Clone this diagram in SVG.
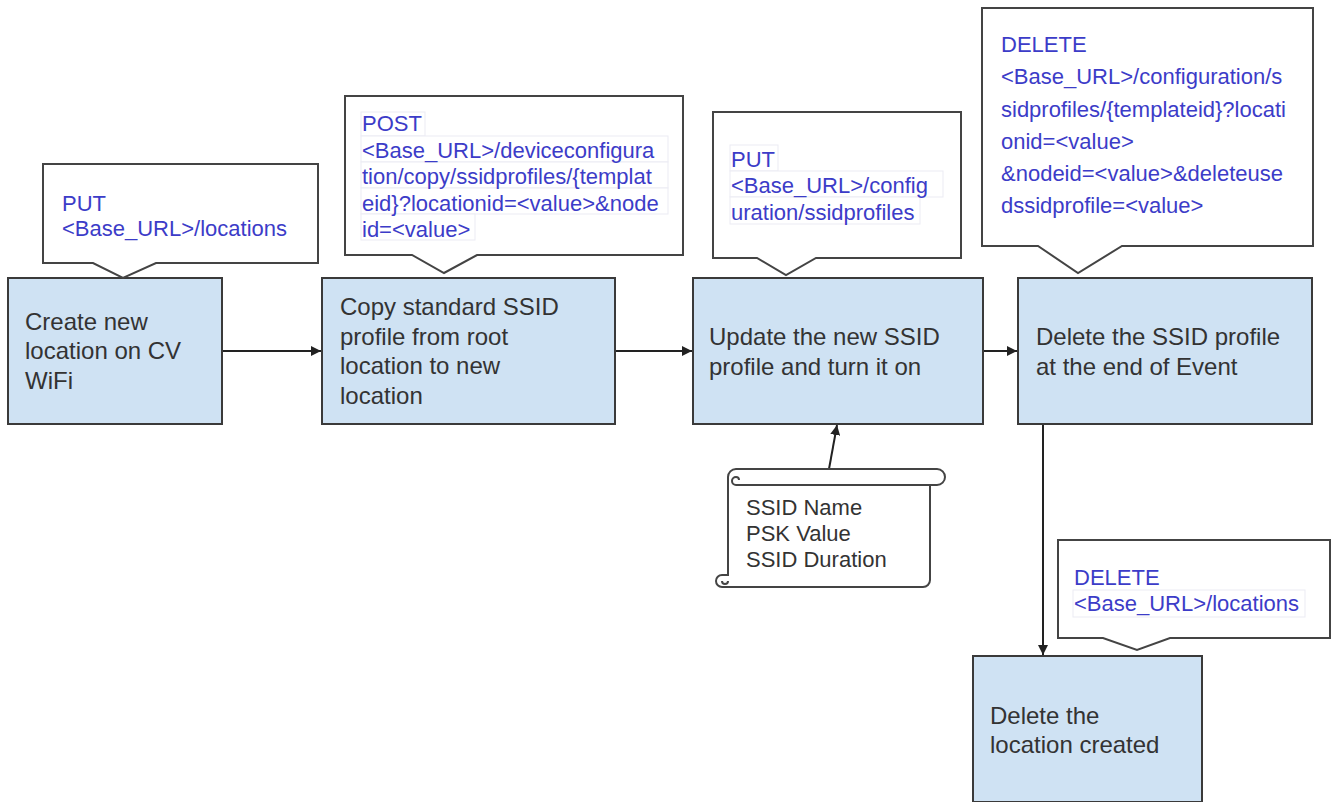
<svg xmlns="http://www.w3.org/2000/svg" width="1331" height="802" viewBox="0 0 1331 802">
<style>
.node{fill:#cfe2f3;stroke:#3a3a3a;stroke-width:2}
.call{fill:#fff;stroke:#444;stroke-width:2;stroke-linejoin:miter}
.nt{font-family:"Liberation Sans",Arial,sans-serif;font-size:24px;fill:#333}
.bt{font-family:"Liberation Sans",Arial,sans-serif;font-size:22px;fill:#3c3cc8}
.st{font-family:"Liberation Sans",Arial,sans-serif;font-size:22px;fill:#333}
.hl{fill:#fff;stroke:#ebebf3;stroke-width:1}
.conn{stroke:#222;stroke-width:2;fill:none}
</style>
<defs>
<marker id="ah" viewBox="0 0 10 10" refX="10" refY="5" markerWidth="5" markerHeight="5" orient="auto" markerUnits="strokeWidth">
<path d="M0 0 L10 5 L0 10 Z" fill="#222"/>
</marker>
</defs>
<rect width="1331" height="802" fill="#fff"/>

<g id="connectors">
<line class="conn" x1="222" y1="351" x2="321" y2="351" marker-end="url(#ah)"/>
<line class="conn" x1="615" y1="351" x2="692" y2="351" marker-end="url(#ah)"/>
<line class="conn" x1="983" y1="351" x2="1017" y2="351" marker-end="url(#ah)"/>
<line class="conn" x1="1043" y1="424" x2="1043" y2="655" marker-end="url(#ah)"/>
<line class="conn" x1="829" y1="469" x2="837" y2="425" marker-end="url(#ah)"/>
</g>

<g id="node1">
<rect class="node" x="8" y="278" width="214" height="146"/>
<text class="nt" x="25" y="330">Create new</text>
<text class="nt" x="25" y="359">location on CV</text>
<text class="nt" x="25" y="389">WiFi</text>
</g>
<g id="callout1">
<path class="call" d="M43 164 H318 V263 H156 L123 278 L93 263 H43 Z"/>
<text class="bt" x="62" y="211">PUT</text>
<text class="bt" x="62" y="236">&lt;Base_URL&gt;/locations</text>
</g>

<g id="node2">
<rect class="node" x="322" y="278" width="293" height="146"/>
<text class="nt" x="340" y="315">Copy standard SSID</text>
<text class="nt" x="340" y="345">profile from root</text>
<text class="nt" x="340" y="374">location to new</text>
<text class="nt" x="340" y="404">location</text>
</g>
<g id="callout2">
<path class="call" d="M345 96 H683 V255 H477 L444 273 L412 255 H345 Z"/>
<rect class="hl" x="361" y="112" width="64" height="24"/>
<rect class="hl" x="361" y="136" width="307" height="26"/>
<rect class="hl" x="361" y="162" width="307" height="26"/>
<rect class="hl" x="361" y="188" width="307" height="26"/>
<rect class="hl" x="361" y="214" width="114" height="26"/>
<text class="bt" x="362" y="131">POST</text>
<text class="bt" x="362" y="158">&lt;Base_URL&gt;/deviceconfigura</text>
<text class="bt" x="362" y="184">tion/copy/ssidprofiles/{templat</text>
<text class="bt" x="362" y="211">eid}?locationid=&lt;value&gt;&amp;node</text>
<text class="bt" x="362" y="237">id=&lt;value&gt;</text>
</g>

<g id="node3">
<rect class="node" x="693" y="278" width="290" height="146"/>
<text class="nt" x="709" y="345">Update the new SSID</text>
<text class="nt" x="709" y="375">profile and turn it on</text>
</g>
<g id="callout3">
<path class="call" d="M713 112 H961 V258 H816 L786 275 L757 258 H713 Z"/>
<rect class="hl" x="730" y="145" width="48" height="26"/>
<rect class="hl" x="730" y="171" width="213" height="26"/>
<rect class="hl" x="730" y="197" width="190" height="27"/>
<text class="bt" x="731" y="167">PUT</text>
<text class="bt" x="731" y="193">&lt;Base_URL&gt;/config</text>
<text class="bt" x="731" y="220">uration/ssidprofiles</text>
</g>

<g id="node4">
<rect class="node" x="1018" y="278" width="294" height="146"/>
<text class="nt" x="1036" y="345">Delete the SSID profile</text>
<text class="nt" x="1036" y="375">at the end of Event</text>
</g>
<g id="callout4">
<path class="call" d="M982 8 H1313 V246 H1122 L1078 273 L1038 246 H982 Z"/>
<text class="bt" x="1001" y="52">DELETE</text>
<text class="bt" x="1001" y="84">&lt;Base_URL&gt;/configuration/s</text>
<text class="bt" x="1001" y="117">sidprofiles/{templateid}?locati</text>
<text class="bt" x="1001" y="149">onid=&lt;value&gt;</text>
<text class="bt" x="1001" y="181">&amp;nodeid=&lt;value&gt;&amp;deleteuse</text>
<text class="bt" x="1001" y="213">dssidprofile=&lt;value&gt;</text>
</g>

<g id="node5">
<rect class="node" x="973" y="656" width="229" height="146"/>
<text class="nt" x="990" y="724">Delete the</text>
<text class="nt" x="990" y="753">location created</text>
</g>
<g id="callout5">
<path class="call" d="M1058 540 H1330 V638 H1170 L1137 650 L1103 638 H1058 Z"/>
<rect class="hl" x="1073" y="590" width="232" height="27"/>
<text class="bt" x="1074" y="585">DELETE</text>
<text class="bt" x="1074" y="611">&lt;Base_URL&gt;/locations</text>
</g>

<g id="scroll">
<path class="call" d="M736 469 H937 A8 8 0 0 1 937 485 H930 V580 A7 7 0 0 1 923 587 H722 A6 6 0 0 1 722 575 H728 V477 A8 8 0 0 1 736 469 Z"/>
<path d="M736 485 H930 M736 485 A4 4 0 0 1 736 477 A3 3 0 0 1 739 480 M728 581 A3 3 0 0 1 722 581" fill="none" stroke="#444" stroke-width="2"/>
<text class="st" x="746" y="515">SSID Name</text>
<text class="st" x="746" y="541">PSK Value</text>
<text class="st" x="746" y="567">SSID Duration</text>
</g>
</svg>
